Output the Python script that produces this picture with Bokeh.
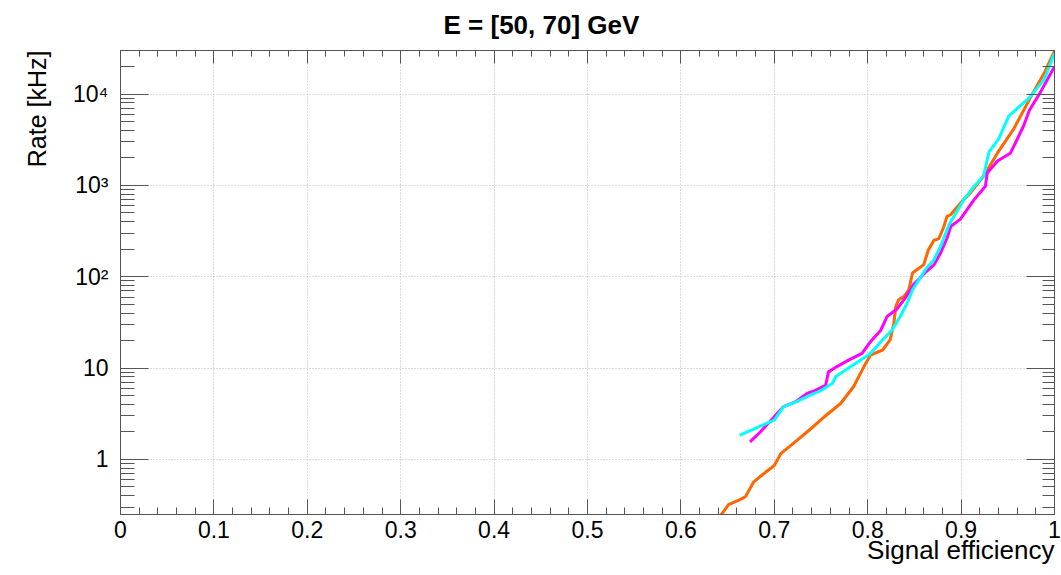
from bokeh.plotting import figure
from bokeh.models import (LinearAxis, LogAxis, Title, FixedTicker, CustomJSTickFormatter)
from bokeh.embed import file_html
from bokeh.resources import INLINE

# ---- data ----
orange_eff = [0.640, 0.644, 0.651, 0.662, 0.669, 0.678, 0.691, 0.700, 0.707, 0.721, 0.735, 0.753,
              0.771, 0.785, 0.796, 0.803, 0.816, 0.824, 0.828, 0.830, 0.833, 0.839, 0.844, 0.848,
              0.853, 0.860, 0.865, 0.871, 0.876, 0.881, 0.885, 0.889, 0.901, 0.910, 0.924, 0.939,
              0.956, 0.976, 0.989, 1.000]
orange_rate = [0.23, 0.255, 0.32, 0.36, 0.39, 0.57, 0.73, 0.86, 1.16, 1.52, 2.0, 2.9,
               4.1, 6.3, 10.4, 13.9, 15.8, 20.4, 31, 47, 56, 61, 72, 110,
               120, 135, 198, 251, 260, 342, 460, 480, 670, 830, 1260, 2270,
               4100, 9900, 17000, 29500]

magenta_eff = [0.674, 0.685, 0.698, 0.710, 0.723, 0.735, 0.744, 0.755, 0.758, 0.767, 0.780, 0.794,
               0.803, 0.814, 0.821, 0.831, 0.840, 0.849, 0.856, 0.863, 0.871, 0.878, 0.885, 0.889,
               0.899, 0.914, 0.926, 0.928, 0.939, 0.953, 0.967, 0.973, 0.985, 1.000]
magenta_rate = [1.56, 2.0, 2.8, 3.8, 4.3, 5.3, 5.7, 6.5, 9.1, 10.4, 12.3, 14.5,
                19.5, 26, 37, 44, 58, 82, 97, 115, 135, 182, 266, 357,
                425, 700, 980, 1370, 1850, 2270, 4500, 6600, 10500, 20000]

cyan_eff = [0.663, 0.700, 0.710, 0.724, 0.739, 0.751, 0.762, 0.766, 0.782, 0.803, 0.816, 0.826,
            0.835, 0.842, 0.848, 0.855, 0.863, 0.871, 0.878, 0.887, 0.903, 0.914, 0.924, 0.930,
            0.940, 0.951, 0.973, 0.989, 1.000]
cyan_rate = [1.85, 2.7, 3.8, 4.3, 5.1, 5.75, 6.8, 8.1, 10.4, 14.5, 20.4, 26,
             37, 51, 72, 93, 125, 154, 215, 370, 700, 980, 1260, 2350,
             3200, 5750, 9100, 14500, 28000]

x_major = [0.0, 0.1, 0.2, 0.3, 0.4, 0.5, 0.6, 0.7, 0.8, 0.9, 1.0]
x_minor = [i / 50 for i in range(51)]
y_major = [1, 10, 100, 1000, 10000]
y_minor = [m * 10 ** e for e in range(-1, 5) for m in range(2, 10)]
y_labels = {"1": "1", "10": "10", "100": "10²", "1000": "10³", "10000": "10⁴"}

title_text = "E = [50, 70] GeV"
x_title = "Signal efficiency"
y_title = "Rate [kHz]"

FONT = "Liberation Sans"
AX = "#555555"

p = figure(width=1061, height=575, x_range=(0, 1), y_range=(0.25, 3.0e4),
           y_axis_type="log", output_backend="svg", toolbar_location=None,
           min_border_left=120, min_border_right=7, min_border_top=50, min_border_bottom=61,
           x_axis_location=None, y_axis_location=None)
p.outline_line_color = AX
p.background_fill_color = "white"
p.border_fill_color = "white"

p.title.text = title_text
p.title.align = "left"
p.title.offset = 323
p.title.standoff = 17
p.title.vertical_align = "top"
p.title.text_font = FONT
p.title.text_font_size = "26px"
p.title.text_font_style = "bold"
p.title.text_color = "black"

xt = FixedTicker(ticks=x_major, minor_ticks=x_minor)
yt = FixedTicker(ticks=y_major, minor_ticks=y_minor)

def style(ax, major_in, minor_in):
    ax.axis_line_color = AX
    ax.major_tick_line_color = AX
    ax.minor_tick_line_color = AX
    ax.major_tick_in = major_in
    ax.major_tick_out = 0
    ax.minor_tick_in = minor_in
    ax.minor_tick_out = 0
    ax.major_label_text_font = FONT
    ax.major_label_text_font_size = "23px"
    ax.major_label_text_color = "black"

xb = LinearAxis(ticker=xt,
                formatter=CustomJSTickFormatter(code="return tick.toFixed(1).replace(/\\.0$/, '');"))
style(xb, 15, 7)
xb.major_label_standoff = 6
p.add_layout(xb, "below")

xtop = LinearAxis(ticker=xt, formatter=CustomJSTickFormatter(code="return '';"))
style(xtop, 13, 6)
xtop.major_label_standoff = 0
xtop.major_label_text_font_size = "0px"
p.add_layout(xtop, "above")

yl = LogAxis(ticker=yt,
             formatter=CustomJSTickFormatter(args=dict(m=y_labels),
                                             code="return m[String(Math.round(tick))] || '';"))
style(yl, 28, 14)
yl.major_label_standoff = 12
p.add_layout(yl, "left")

p.add_layout(Title(text=y_title, align="right", text_font=FONT, text_font_size="25px",
                   text_font_style="normal", text_color="black", standoff=40), "left")

yr = LogAxis(ticker=yt, formatter=CustomJSTickFormatter(code="return '';"))
style(yr, 28, 12)
yr.major_label_standoff = 0
yr.major_label_text_font_size = "0px"
p.add_layout(yr, "right")

p.xgrid.ticker = xt
p.ygrid.ticker = yt
for g in (p.xgrid, p.ygrid):
    g.grid_line_color = "#b8b8b8"
    g.grid_line_dash = "1 2"
    g.grid_line_width = 1

p.add_layout(Title(text=x_title, align="right", text_font=FONT, text_font_size="26px",
                   text_font_style="normal", text_color="black", standoff=-15), "below")

p.line(orange_eff, orange_rate, line_color="#FF6600", line_width=3)
p.line(magenta_eff, magenta_rate, line_color="#FF00FF", line_width=3)
p.line(cyan_eff, cyan_rate, line_color="#00FFFF", line_width=3)

open("out.html", "w").write(file_html(p, INLINE))
